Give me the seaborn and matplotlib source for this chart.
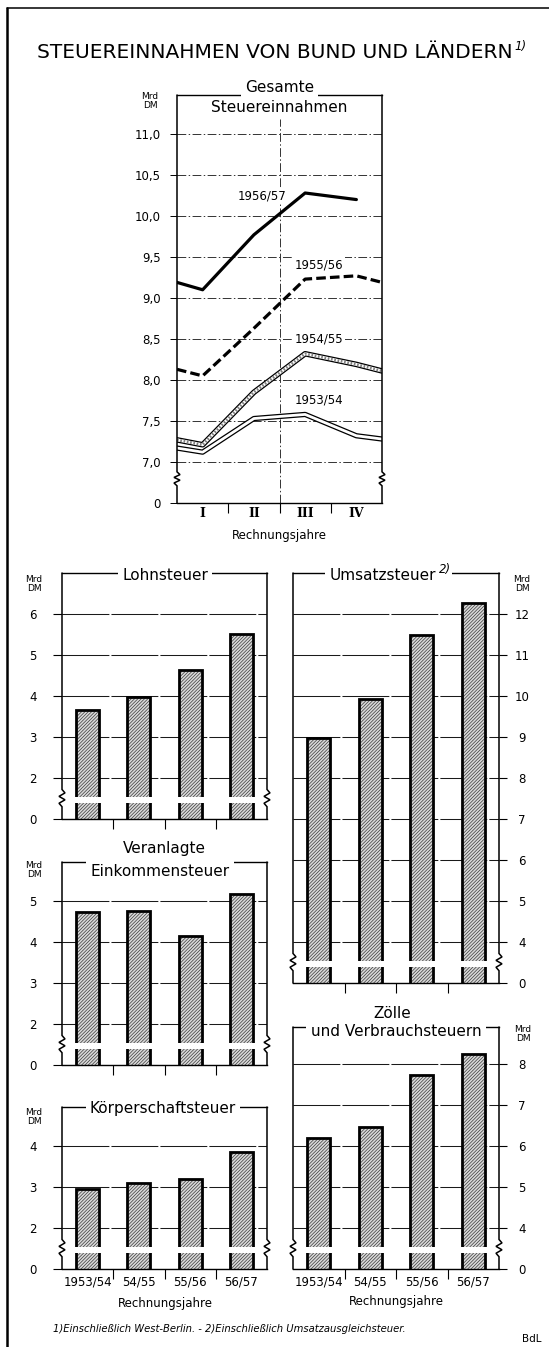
import numpy as np
import pandas as pd
import matplotlib
matplotlib.use("Agg")
import matplotlib.pyplot as plt
import matplotlib.transforms as mtransforms
from matplotlib.lines import Line2D
from matplotlib.text import Annotation
import seaborn as sns

# ---------------- data ----------------
quarters = ["I", "II", "III", "IV"]
# Gesamte Steuereinnahmen (Mrd DM): value at start boundary, quarters I-IV, value at end boundary
total_1953_54 = [7.17, 7.12, 7.53, 7.58, 7.32, 7.28]
total_1954_55 = [7.27, 7.21, 7.85, 8.32, 8.19, 8.11]
total_1955_56 = [8.13, 8.05, 8.63, 9.23, 9.27, 9.19]
total_1956_57 = [9.19, 9.10, 9.77, 10.28, 10.20]
total_ticks = [7.0, 7.5, 8.0, 8.5, 9.0, 9.5, 10.0, 10.5, 11.0]
total_ticklabels = ["7,0", "7,5", "8,0", "8,5", "9,0", "9,5", "10,0", "10,5", "11,0"]

years = ["1953/54", "54/55", "55/56", "56/57"]
lohnsteuer = [3.67, 3.98, 4.63, 5.52]
umsatzsteuer = [8.97, 9.93, 11.49, 12.27]
einkommensteuer = [4.73, 4.75, 4.15, 5.17]
koerperschaftsteuer = [2.95, 3.10, 3.20, 3.86]
zoelle = [6.20, 6.46, 7.73, 8.24]
lohn_ticks = [2, 3, 4, 5, 6]
umsatz_ticks = [4, 5, 6, 7, 8, 9, 10, 11, 12]
eink_ticks = [2, 3, 4, 5]
koerp_ticks = [2, 3, 4]
zoelle_ticks = [4, 5, 6, 7, 8]

# ---------------- style ----------------
sns.set_theme(style="ticks", rc={
    "axes.edgecolor": "black", "axes.linewidth": 1.0,
    "xtick.color": "black", "ytick.color": "black",
    "text.color": "black", "axes.labelcolor": "black",
    "hatch.color": "#3a3a3a", "hatch.linewidth": 0.5,
})
plt.rcParams["font.family"] = ["DejaVu Sans"]

W, H, DPI = 549, 1347, 100
fig = plt.figure(figsize=(W / DPI, H / DPI), dpi=DPI)
fig.patch.set_facecolor("white")


def px_ax(x0, y0, x1, y1):
    return fig.add_axes([x0 / W, 1 - y1 / H, (x1 - x0) / W, (y1 - y0) / H])


def fxy(x, y):
    return x / W, 1 - y / H


def broken_sides(ax, ylo, yhi, b_lo, b_hi, width_px):
    tr = mtransforms.blended_transform_factory(ax.transAxes, ax.transData)
    a = 3.0 / width_px
    n = 5
    zy = np.linspace(b_hi, b_lo, n + 1)
    for xa in (0.0, 1.0):
        xs = [xa, xa]
        ys = [yhi, b_hi]
        for i in range(1, n):
            xs.append(xa + (a if i % 2 else -a))
            ys.append(zy[i])
        xs += [xa, xa]
        ys += [b_lo, ylo]
        ax.plot(xs, ys, transform=tr, color="black", lw=1.1, clip_on=False,
                zorder=6, solid_joinstyle="miter")


def superscript(text_obj, s, fx, dx):
    a = Annotation(s, xy=(1.0, fx), xycoords=text_obj, xytext=(dx, 0),
                   textcoords="offset points", ha="left", va="bottom",
                   fontsize=8.5, fontstyle="italic", annotation_clip=False,
                   bbox=dict(boxstyle="square,pad=0.1", fc="white", ec="none"))
    a.set_zorder(12)
    fig.add_artist(a)
    return a


WHITE_BOX = dict(boxstyle="square,pad=0.28", fc="white", ec="none")
GRID_DD = (0, (9, 2.5, 1.5, 2.5))

# ---------------- frame ----------------
fig.add_artist(Line2D([7 / W, 7 / W], [1 - 8 / H, 0], transform=fig.transFigure,
                      color="black", lw=1.8))
fig.add_artist(Line2D([7 / W, 1], [1 - 8 / H, 1 - 8 / H], transform=fig.transFigure,
                      color="black", lw=1.1))

# ---------------- title ----------------
t_title = fig.text(*fxy(37, 52), "STEUEREINNAHMEN VON BUND UND LÄNDERN",
                   ha="left", va="center", fontsize=14.5)
superscript(t_title, "1)", 0.45, 1.5)

# ---------------- top line chart ----------------
ax = px_ax(177, 95, 382, 503)
top_lo, top_hi = 6.5, 11.475
pos6 = [-0.5, 0, 1, 2, 3, 3.5]


def line_df(vals):
    return pd.DataFrame({"pos": pos6[:len(vals)], "val": vals})


d = line_df(total_1953_54)
sns.lineplot(data=d, x="pos", y="val", ax=ax, color="black", linewidth=3.8,
             sort=False, estimator=None, zorder=3)
sns.lineplot(data=d, x="pos", y="val", ax=ax, color="white", linewidth=2.0,
             sort=False, estimator=None, zorder=3.1)
d = line_df(total_1954_55)
sns.lineplot(data=d, x="pos", y="val", ax=ax, color="black", linewidth=4.0,
             sort=False, estimator=None, zorder=3.2)
sns.lineplot(data=d, x="pos", y="val", ax=ax, color="white", linewidth=2.2,
             sort=False, estimator=None, zorder=3.3)
sns.lineplot(data=d, x="pos", y="val", ax=ax, color="#808080", linewidth=2.0,
             linestyle=(0, (0.6, 0.6)), sort=False, estimator=None, zorder=3.4)
d = line_df(total_1955_56)
sns.lineplot(data=d, x="pos", y="val", ax=ax, color="black", linewidth=2.3,
             linestyle=(0, (3, 1.3)), sort=False, estimator=None, zorder=3.5)
d = line_df(total_1956_57)
sns.lineplot(data=d, x="pos", y="val", ax=ax, color="black", linewidth=2.3,
             sort=False, estimator=None, zorder=3.6)

ax.set_xlim(-0.5, 3.5)
ax.set_ylim(top_lo, top_hi)
ax.set_xlabel("")
ax.set_ylabel("")
ax.set_yticks([top_lo] + total_ticks)
ax.set_yticklabels(["0"] + total_ticklabels)
ax.tick_params(axis="y", length=5, width=0.7, pad=6.5, labelsize=8.5)
ax.set_axisbelow(True)
ax.yaxis.grid(True, color="#333333", lw=0.7, linestyle=GRID_DD)
ax.xaxis.grid(False)
ax.set_xticks([0.5, 1.5, 2.5])
ax.set_xticklabels([])
ax.set_xticks(range(4), minor=True)
ax.set_xticklabels(quarters, minor=True, fontfamily="DejaVu Serif",
                   fontweight="bold", fontsize=9)
ax.tick_params(axis="x", which="major", length=7, width=0.8)
ax.tick_params(axis="x", which="minor", length=0, pad=3)
ax.axvline(1.5, ymin=0, ymax=0.94, color="#333333", lw=0.7, linestyle=GRID_DD, zorder=1)
for s in ("left", "right"):
    ax.spines[s].set_visible(False)
broken_sides(ax, top_lo, top_hi, 6.71, 6.88, 205)

for lbl, lx, ly in (("1956/57", 1.16, 10.24), ("1955/56", 2.27, 9.40),
                    ("1954/55", 2.27, 8.50), ("1953/54", 2.27, 7.76)):
    ax.text(lx, ly, lbl, ha="center", va="center", fontsize=8.5, zorder=5,
            bbox=dict(boxstyle="square,pad=0.12", fc="white", ec="none"))

fig.text(*fxy(279.5, 88), "Gesamte", ha="center", va="center", fontsize=11,
         bbox=WHITE_BOX, zorder=10)
fig.text(*fxy(279.5, 107), "Steuereinnahmen", ha="center", va="center", fontsize=11)
fig.text(*fxy(150, 101), "Mrd\nDM", ha="center", va="center", fontsize=6.5, linespacing=0.9)
fig.text(*fxy(279.5, 535), "Rechnungsjahre", ha="center", va="center", fontsize=8.5)

# ---------------- bar panels ----------------
panels = [
    dict(vals=lohnsteuer, ticks=lohn_ticks, rect=(62, 573, 267, 819), side="left", top=7.0, xl=False),
    dict(vals=umsatzsteuer, ticks=umsatz_ticks, rect=(293, 573, 499, 983), side="right", top=13.0, xl=False),
    dict(vals=einkommensteuer, ticks=eink_ticks, rect=(62, 862, 267, 1065), side="left", top=5.95, xl=False),
    dict(vals=koerperschaftsteuer, ticks=koerp_ticks, rect=(62, 1107, 267, 1269), side="left", top=4.95, xl=True),
    dict(vals=zoelle, ticks=zoelle_ticks, rect=(293, 1027, 499, 1269), side="right", top=8.9, xl=True),
]

for p in panels:
    base = p["ticks"][0] - 1
    ax = px_ax(*p["rect"])
    df = pd.DataFrame({"Jahr": years, "Wert": p["vals"]})
    sns.barplot(data=df, x="Jahr", y="Wert", ax=ax, color="#d9d9d9", saturation=1,
                edgecolor="#3a3a3a", linewidth=0, hatch="//////////", width=0.45,
                errorbar=None, zorder=2)
    sns.barplot(data=df, x="Jahr", y="Wert", ax=ax, fill=False, color="black",
                linewidth=2.0, width=0.45, errorbar=None, zorder=2.5)
    ax.set_xlim(-0.5, 3.5)
    ax.set_ylim(base, p["top"])
    ax.set_xlabel("")
    ax.set_ylabel("")
    ax.set_axisbelow(True)
    ax.set_yticks([base] + p["ticks"])
    ax.yaxis.grid(True, color="#1a1a1a", lw=0.75, linestyle=(0, (45, 2)))
    ax.xaxis.grid(False)
    if p["side"] == "left":
        ax.tick_params(axis="y", left=True, right=False, labelleft=True, labelright=False,
                       length=6.5, width=0.8, pad=14.4, labelsize=8.5)
    else:
        ax.yaxis.tick_right()
        ax.tick_params(axis="y", left=False, right=True, labelleft=False, labelright=True,
                       length=5.8, width=0.8, pad=10.8, labelsize=8.5)
    ax.set_yticklabels(["0"] + [str(t) for t in p["ticks"]], ha="center")
    ax.set_xticks([0.5, 1.5, 2.5])
    ax.set_xticklabels([])
    ax.set_xticks(range(4), minor=True)
    ax.set_xticklabels(years if p["xl"] else [""] * 4, minor=True, fontsize=8.5)
    ax.tick_params(axis="x", which="major", length=7.2, width=0.8)
    ax.tick_params(axis="x", which="minor", length=0, pad=5)
    ax.axhspan(base + 0.38, base + 0.54, color="white", lw=0, zorder=4)
    for s in ("left", "right"):
        ax.spines[s].set_visible(False)
    broken_sides(ax, base, p["top"], base + 0.3, base + 0.72, p["rect"][2] - p["rect"][0])

# panel titles
fig.text(*fxy(165, 575), "Lohnsteuer", ha="center", va="center", fontsize=11,
         bbox=WHITE_BOX, zorder=10)
t_u = fig.text(*fxy(383, 575), "Umsatzsteuer", ha="center", va="center", fontsize=11,
               bbox=WHITE_BOX, zorder=10)
superscript(t_u, "2)", 0.4, 2.0)
fig.text(*fxy(164, 849), "Veranlagte", ha="center", va="center", fontsize=11, zorder=10)
fig.text(*fxy(160, 871), "Einkommensteuer", ha="center", va="center", fontsize=11,
         bbox=WHITE_BOX, zorder=10)
fig.text(*fxy(163, 1108), "Körperschaftsteuer", ha="center", va="center", fontsize=11,
         bbox=WHITE_BOX, zorder=10)
fig.text(*fxy(392, 1014), "Zölle", ha="center", va="center", fontsize=11, zorder=10)
fig.text(*fxy(396, 1032), "und Verbrauchsteuern", ha="center", va="center", fontsize=11,
         bbox=WHITE_BOX, zorder=10)

# unit labels
for ux, uy in ((34, 584), (522, 584), (34, 870), (34, 1117), (523, 1034)):
    fig.text(*fxy(ux, uy), "Mrd\nDM", ha="center", va="center", fontsize=6.5, linespacing=0.9)

fig.text(*fxy(165, 1303), "Rechnungsjahre", ha="center", va="center", fontsize=8.5)
fig.text(*fxy(396, 1302), "Rechnungsjahre", ha="center", va="center", fontsize=8.5)

fig.text(*fxy(53, 1329), "1)Einschließlich West-Berlin. - 2)Einschließlich Umsatzausgleichsteuer.",
         ha="left", va="center", fontsize=7.2, fontstyle="italic")
fig.text(*fxy(532, 1339), "BdL", ha="center", va="center", fontsize=7.5)

fig.savefig("out.png", dpi=DPI, facecolor="white")
